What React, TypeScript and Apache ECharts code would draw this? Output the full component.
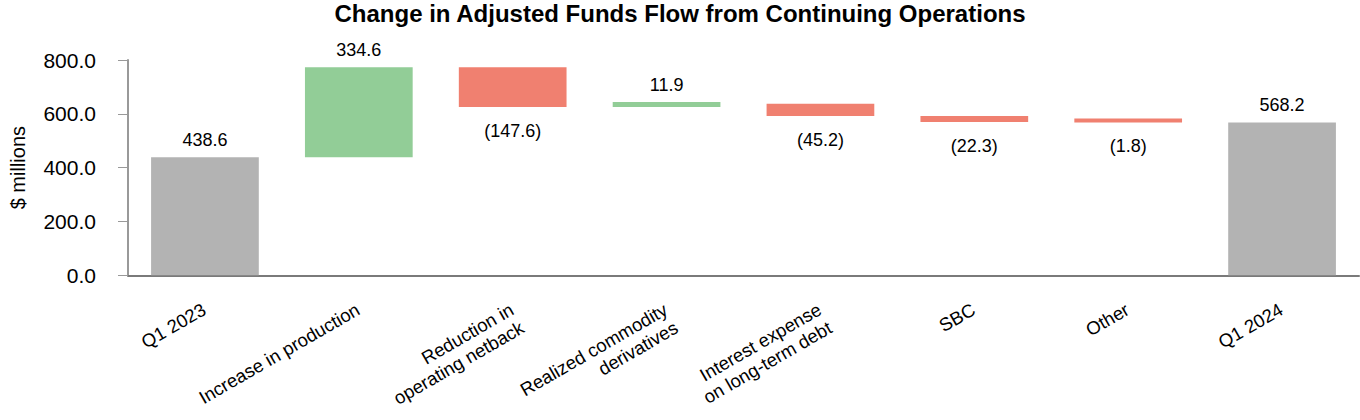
import React, { useEffect, useRef } from "react";
import * as echarts from "echarts";

const categories = [
  "Q1 2023",
  "Increase in production",
  "Reduction in\noperating netback",
  "Realized commodity\nderivatives",
  "Interest expense\non long-term debt",
  "SBC",
  "Other",
  "Q1 2024",
];
const totals: (number | null)[] = [438.6, null, null, null, null, null, null, 568.2];
const changes: (number | null)[] = [null, 334.6, -147.6, 11.9, -45.2, -22.3, -1.8, null];
const yTicks = { min: 0, max: 800, interval: 200 };

const FONT = "'Liberation Sans', Arial, sans-serif";

function buildSeries() {
  const base: (number | string)[] = [];
  const totalVals: (number | string)[] = [];
  const up: (number | string)[] = [];
  const down: (number | string)[] = [];
  let running = 0;
  categories.forEach((_, i) => {
    const t = totals[i];
    const c = changes[i];
    if (t != null) {
      running = t;
      base.push("-");
      totalVals.push(t);
      up.push("-");
      down.push("-");
    } else if (c != null) {
      const next = running + c;
      base.push(+Math.min(running, next).toFixed(4));
      totalVals.push("-");
      if (c >= 0) {
        up.push(c);
        down.push("-");
      } else {
        up.push("-");
        down.push(-c);
      }
      running = next;
    }
  });
  return { base, totalVals, up, down };
}

export default function App() {
  const ref = useRef<HTMLDivElement>(null);
  useEffect(() => {
    if (!ref.current) return;
    const chart = echarts.init(ref.current, undefined, { renderer: "svg" });
    const { base, totalVals, up, down } = buildSeries();
    chart.setOption({
      animation: false,
      textStyle: { fontFamily: FONT },
      title: {
        text: "Change in Adjusted Funds Flow from Continuing Operations",
        left: "center",
        top: 1,
        padding: 0,
        textStyle: { fontFamily: FONT, fontSize: 24, fontWeight: "bold", color: "#000" },
      },
      grid: { left: 128, right: 1, top: 60, bottom: 143, containLabel: false },
      xAxis: {
        type: "category",
        data: categories,
        axisLine: { lineStyle: { color: "#7a7a7a", width: 2 } },
        axisTick: { alignWithLabel: true, length: 9, lineStyle: { color: "#999" } },
        axisLabel: {
          rotate: 30,
          interval: 0,
          margin: 20,
          verticalAlign: "top",
          padding: [0, 7, 0, 0],
          fontSize: 18.5,
          lineHeight: 21,
          color: "#000",
          fontFamily: FONT,
        },
      },
      yAxis: {
        type: "value",
        min: yTicks.min,
        max: yTicks.max,
        interval: yTicks.interval,
        name: "$ millions",
        nameLocation: "middle",
        nameGap: 100,
        nameRotate: 90,
        nameTextStyle: { fontSize: 20, color: "#000", fontFamily: FONT },
        axisLine: { show: true, lineStyle: { color: "#999", width: 2 } },
        axisTick: { show: true, length: 10, lineStyle: { color: "#999" } },
        splitLine: { show: false },
        axisLabel: {
          formatter: (v: number) => v.toFixed(1),
          fontSize: 21,
          color: "#000",
          margin: 32,
          fontFamily: FONT,
        },
      },
      series: [
        {
          name: "base",
          type: "bar",
          stack: "w",
          barWidth: "70%",
          silent: true,
          itemStyle: { color: "rgba(0,0,0,0)" },
          data: base,
        },
        {
          name: "total",
          type: "bar",
          stack: "w",
          barWidth: "70%",
          itemStyle: { color: "#b3b3b3" },
          label: {
            show: true,
            position: "top",
            distance: 8,
            fontSize: 18,
            color: "#000",
            fontFamily: FONT,
            formatter: (p: any) => Number(p.value).toFixed(1),
          },
          data: totalVals,
        },
        {
          name: "increase",
          type: "bar",
          stack: "w",
          barWidth: "70%",
          barMinHeight: 5,
          itemStyle: { color: "#92cd97" },
          label: {
            show: true,
            position: "top",
            distance: 8,
            fontSize: 18,
            color: "#000",
            fontFamily: FONT,
            formatter: (p: any) => Number(p.value).toFixed(1),
          },
          data: up,
        },
        {
          name: "decrease",
          type: "bar",
          stack: "w",
          barWidth: "70%",
          barMinHeight: 4,
          itemStyle: { color: "#f08070" },
          label: {
            show: true,
            position: "bottom",
            distance: 15,
            fontSize: 18,
            color: "#000",
            fontFamily: FONT,
            formatter: (p: any) => "(" + Number(p.value).toFixed(1) + ")",
          },
          data: down,
        },
      ],
    });
    return () => chart.dispose();
  }, []);
  return (
    <div
      ref={ref}
      style={{ position: "absolute", left: 0, top: 0, width: 1360, height: 420 }}
    />
  );
}
